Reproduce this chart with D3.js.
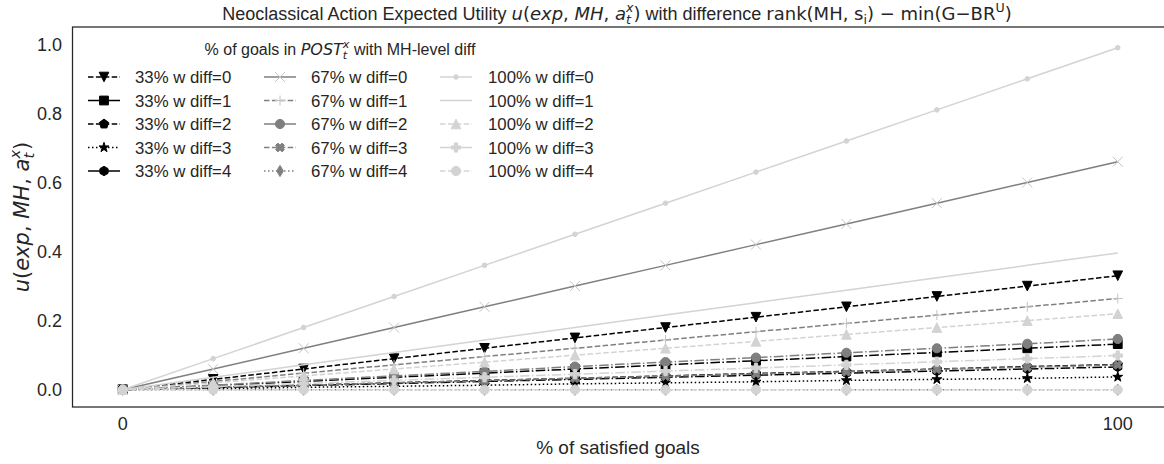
<!DOCTYPE html>
<html lang="en">
<head>
<meta charset="UTF-8">
<title>Neoclassical Action Expected Utility</title>
<script src="https://cdn.jsdelivr.net/npm/d3@7"></script>
<style>
    body { margin: 0; background: #fff; }
    svg text { white-space: pre; fill: #262626; }
</style>
</head>
<body>
<svg id="chart" width="1164" height="464"></svg>
<script>
// x positions: % of satisfied goals (12 steps)
const xPct = [0, 9.09, 18.18, 27.27, 36.36, 45.45, 54.55, 63.64, 72.73, 81.82, 90.91, 100];
const xTicks = [0, 100];
const yTicks = [0, 0.2, 0.4, 0.6, 0.8, 1.0];

const groupLabels = ["33%", "67%", "100%"];
const diffLabels = ["diff=0", "diff=1", "diff=2", "diff=3", "diff=4"];

// u(exp, MH, a) per group, one row per diff level
const u33 = [
    [0, 0.03, 0.06, 0.09, 0.12, 0.15, 0.18, 0.21, 0.24, 0.27, 0.30, 0.33],
    [0, 0.012, 0.024, 0.036, 0.048, 0.06, 0.072, 0.084, 0.096, 0.108, 0.12, 0.132],
    [0, 0.007, 0.013, 0.02, 0.027, 0.033, 0.04, 0.047, 0.053, 0.06, 0.067, 0.073],
    [0, 0.003, 0.007, 0.01, 0.013, 0.017, 0.02, 0.023, 0.027, 0.03, 0.033, 0.037],
    [0, 0.006, 0.012, 0.018, 0.024, 0.03, 0.036, 0.042, 0.048, 0.054, 0.06, 0.066]
];
const u67 = [
    [0, 0.06, 0.12, 0.18, 0.24, 0.30, 0.36, 0.42, 0.48, 0.54, 0.60, 0.66],
    [0, 0.024, 0.048, 0.072, 0.096, 0.12, 0.144, 0.168, 0.192, 0.216, 0.24, 0.264],
    [0, 0.013, 0.027, 0.04, 0.053, 0.067, 0.08, 0.093, 0.107, 0.12, 0.133, 0.147],
    [0, 0.007, 0.013, 0.02, 0.026, 0.033, 0.039, 0.046, 0.052, 0.059, 0.065, 0.072],
    [0, 0, 0, 0, 0, 0, 0, 0, 0, 0, 0, 0]
];
const u100 = [
    [0, 0.09, 0.18, 0.27, 0.36, 0.45, 0.54, 0.63, 0.72, 0.81, 0.90, 0.99],
    [0, 0.036, 0.072, 0.108, 0.144, 0.18, 0.216, 0.252, 0.288, 0.324, 0.36, 0.396],
    [0, 0.02, 0.04, 0.06, 0.08, 0.10, 0.12, 0.14, 0.16, 0.18, 0.20, 0.22],
    [0, 0.009, 0.018, 0.027, 0.036, 0.045, 0.054, 0.063, 0.072, 0.081, 0.09, 0.099],
    [0, 0, 0, 0, 0, 0, 0, 0, 0, 0, 0, 0]
];

// line styles
const DASH = "5.5,2.4", DASHDOT = "9.6,2.4,1.5,2.4", DOT = "1.5,2.5";
const styles = [
    [ // 33%
        { color: "#000", dash: DASH, marker: "v" },
        { color: "#000", dash: DASHDOT, marker: "s", legendSolid: true },
        { color: "#000", dash: DASH, marker: "p" },
        { color: "#000", dash: DOT, marker: "*" },
        { color: "#000", dash: DASHDOT, marker: "h", legendSolid: true }
    ],
    [ // 67%
        { color: "#7f7f7f", dash: null, marker: "x", mcolor: "#c4c4c4" },
        { color: "#7f7f7f", dash: DASH, marker: "+", mcolor: "#c4c4c4" },
        { color: "#7f7f7f", dash: DASHDOT, marker: "o", legendSolid: true },
        { color: "#7f7f7f", dash: DASH, marker: "X" },
        { color: "#7f7f7f", dash: DOT, marker: "d" }
    ],
    [ // 100%
        { color: "#d3d3d3", dash: null, marker: "." },
        { color: "#d3d3d3", dash: null, marker: null },
        { color: "#d3d3d3", dash: DASH, marker: "^" },
        { color: "#d3d3d3", dash: DASHDOT, marker: "P", legendSolid: true },
        { color: "#d3d3d3", dash: DASH, marker: "o" }
    ]
];

const svg = d3.select("#chart");
const plot = { left: 72.5, right: 1167, top: 27, bottom: 407 };

const x = d3.scaleLinear().domain([-5, 105]).range([plot.left + 0.5, plot.right + 0.5]);
const y = d3.scaleLinear().domain([-0.05, 1.05]).range([plot.bottom, plot.top]);

// marker shapes
function poly(n, r, rot) {
    const pts = d3.range(n).map(i => {
        const a = rot + i * 2 * Math.PI / n;
        return [r * Math.sin(a), -r * Math.cos(a)];
    });
    return "M" + pts.map(p => p.join(",")).join("L") + "Z";
}
function markerPath(m) {
    switch (m) {
        case "v": return "M0,4.8L-4.8,-4.8L4.8,-4.8Z";
        case "^": return "M0,-4.8L-4.8,4.8L4.8,4.8Z";
        case "s": return "M-4.4,-4.4H4.4V4.4H-4.4Z";
        case "p": return poly(5, 4.9, 0);
        case "h": return poly(6, 4.7, 0);
        case "o": return d3.symbol(d3.symbolCircle, Math.PI * 4.6 * 4.6)();
        case ".": return d3.symbol(d3.symbolCircle, Math.PI * 2.3 * 2.3)();
        case "*": return d3.symbol(d3.symbolStar, 30)();
        case "P": return "M-1.6,-4.6H1.6V-1.6H4.6V1.6H1.6V4.6H-1.6V1.6H-4.6V-1.6H-1.6Z";
        case "X": {
            const a = 1.6, b = 4.6;
            const pts = [[-a,-b],[a,-b],[a,-a],[b,-a],[b,a],[a,a],[a,b],[-a,b],[-a,a],[-b,a],[-b,-a],[-a,-a]];
            const c = Math.SQRT1_2;
            return "M" + pts.map(([px, py]) => [(px - py) * c, (px + py) * c].join(",")).join("L") + "Z";
        }
        case "x": return "M-5,-5L5,5M-5,5L5,-5";
        case "+": return "M-5,0H5M0,-5V5";
        case "d": return "M0,-5.6L3.3,0L0,5.6L-3.3,0Z";
    }
    return null;
}
const hollow = new Set(["x", "+"]);

function drawMarker(g, st, cx, cy) {
    const p = markerPath(st.marker);
    if (!p) return;
    const c = st.mcolor || st.color;
    g.append("path")
        .attr("d", p)
        .attr("transform", `translate(${cx},${cy})`)
        .attr("fill", hollow.has(st.marker) ? "none" : c)
        .attr("stroke", c)
        .attr("stroke-width", 1);
}

// frame (seaborn white style)
svg.append("rect")
    .attr("x", plot.left).attr("y", plot.top)
    .attr("width", plot.right - plot.left).attr("height", plot.bottom - plot.top)
    .attr("fill", "none").attr("stroke", "#262626").attr("stroke-width", 1.25);

// lines
const line = d3.line().x((d, i) => x(xPct[i])).y(d => y(d));
const groups = [u33, u67, u100];
const plotG = svg.append("g");
groups.forEach((rows, gi) => {
    rows.forEach((vals, di) => {
        const st = styles[gi][di];
        const g = plotG.append("g");
        g.append("path")
            .datum(vals)
            .attr("d", line)
            .attr("fill", "none")
            .attr("stroke", st.color)
            .attr("stroke-width", 1.5)
            .attr("stroke-dasharray", st.dash);
        vals.forEach((v, i) => drawMarker(g, st, x(xPct[i]), y(v)));
    });
});

const SANS = "Liberation Sans, Arial, sans-serif", MATH = "DejaVu Sans, sans-serif";

// ticks
svg.append("g").selectAll("text").data(yTicks).join("text")
    .attr("x", 62).attr("y", d => y(d)).attr("dy", "0.35em")
    .attr("text-anchor", "end")
    .style("font-family", SANS).style("font-size", "18px")
    .text(d => d.toFixed(1));
svg.append("g").selectAll("text").data(xTicks).join("text")
    .attr("x", d => x(d)).attr("y", 430)
    .attr("text-anchor", "middle")
    .style("font-family", SANS).style("font-size", "18px")
    .text(d => d);

// x label
svg.append("text")
    .attr("x", 618).attr("y", 454)
    .attr("text-anchor", "middle")
    .style("font-family", SANS).style("font-size", "19px")
    .text("% of satisfied goals");

// text runs with mathtext-like pieces; stacked sub/superscripts share one text element
function runs(g, list, size) {
    let cx = 0, lastStart = 0, lastText = null;
    list.forEach(r => {
        const s = r.small ? size * 0.7 : size;
        const start = r.stack ? lastStart : cx;
        if (!r.stack) lastText = g.append("text");
        const t = lastText.append("tspan")
            .attr("x", start).attr("y", (r.shift || 0) * size)
            .style("font-family", r.math ? MATH : SANS)
            .style("font-style", r.it ? "italic" : "normal")
            .style("font-size", s + "px")
            .text(r.t);
        const w = t.node().getComputedTextLength();
        cx = r.stack ? Math.max(cx, start + w) : start + w;
        lastStart = start;
    });
    return cx;
}
function uExpr() {
    return [
        { t: "u", math: 1, it: 1 }, { t: "(", math: 1 }, { t: "exp", math: 1, it: 1 },
        { t: ", ", math: 1 }, { t: "MH", math: 1, it: 1 }, { t: ", ", math: 1 },
        { t: "a", math: 1, it: 1 }, { t: "x", math: 1, it: 1, small: 1, shift: -0.42 },
        { t: "t", math: 1, it: 1, small: 1, shift: 0.22, stack: 1 }, { t: ")", math: 1 }
    ];
}

// title
const titleG = svg.append("g");
const tw = runs(titleG, [{ t: "Neoclassical Action Expected Utility " }]
    .concat(uExpr())
    .concat([
        { t: " with difference " },
        { t: "rank(MH, s", math: 1 }, { t: "i", math: 1, small: 1, shift: 0.22 },
        { t: ") − min(G−BR", math: 1 }, { t: "U", math: 1, small: 1, shift: -0.42 },
        { t: ")", math: 1 }
    ]), 18);
titleG.attr("transform", `translate(${617 - tw / 2},20)`);

// y label
const ylG = svg.append("g");
const yw = runs(ylG, uExpr(), 21);
ylG.attr("transform", `translate(29,${(plot.top + plot.bottom) / 2 + yw / 2}) rotate(-90)`);

// legend
const legG = svg.append("g");
const legTitle = legG.append("g");
const ltw = runs(legTitle, [
    { t: "% of goals in " }, { t: "POST", math: 1, it: 1 },
    { t: "x", math: 1, it: 1, small: 1, shift: -0.42 },
    { t: "t", math: 1, it: 1, small: 1, shift: 0.22, stack: 1 },
    { t: " with MH-level diff" }
], 16);
legTitle.attr("transform", `translate(${340 - ltw / 2},55)`);

const colHandleX = [88, 264, 440];
const colTextX = [135, 311, 488];
const rowY = [77, 100.5, 124, 147.5, 171];
groupLabels.forEach((gl, gi) => {
    diffLabels.forEach((dl, di) => {
        const st = styles[gi][di];
        const hx = colHandleX[gi], hy = rowY[di];
        legG.append("line")
            .attr("x1", hx).attr("x2", hx + 32).attr("y1", hy).attr("y2", hy)
            .attr("stroke", st.color).attr("stroke-width", 1.5)
            .attr("stroke-dasharray", st.legendSolid ? null : st.dash);
        drawMarker(legG, st, hx + 16, hy);
        legG.append("text")
            .attr("x", colTextX[gi]).attr("y", hy).attr("dy", "0.36em")
            .style("font-family", SANS).style("font-size", "16.8px")
            .text(`${gl} w ${dl}`);
    });
});
</script>
</body>
</html>
